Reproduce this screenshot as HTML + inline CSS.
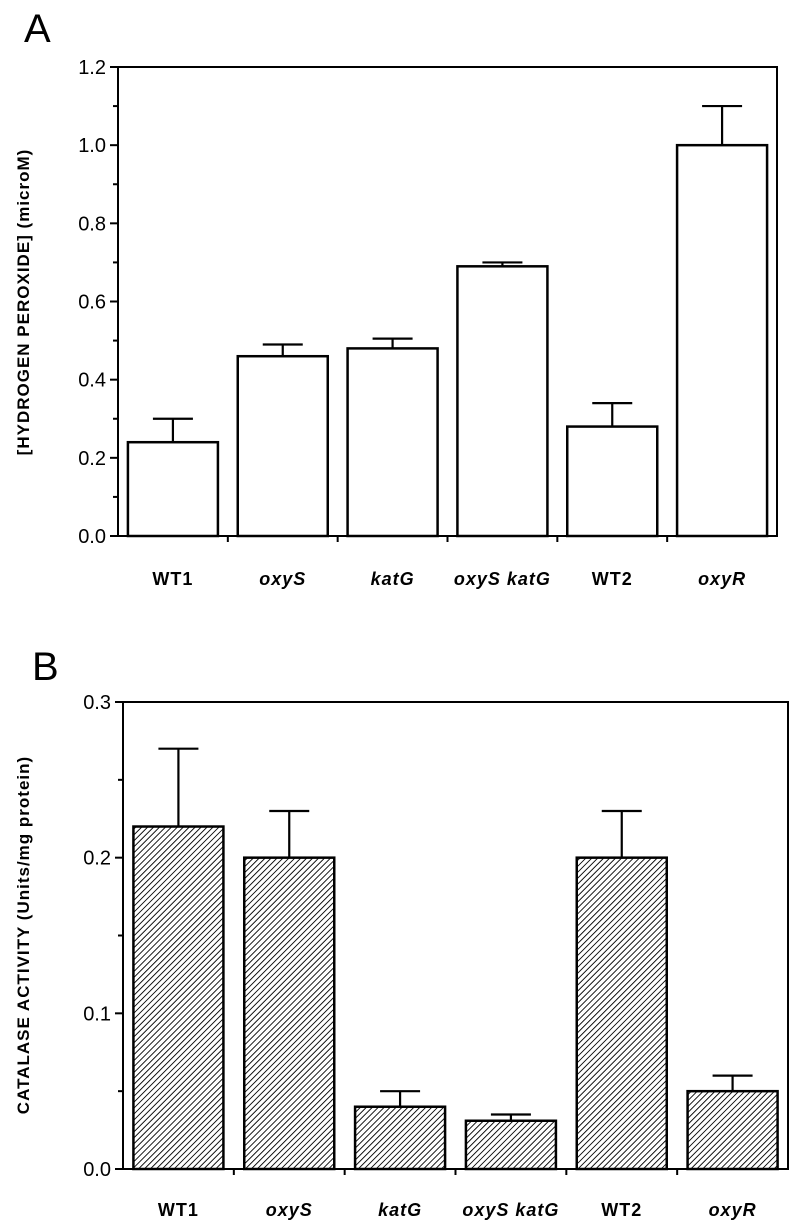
<!DOCTYPE html>
<html><head><meta charset="utf-8"><style>
body{margin:0;background:#fff}
svg{display:block;font-family:"Liberation Sans",sans-serif}
</style></head><body>
<svg id="chart" width="796" height="1230" xmlns="http://www.w3.org/2000/svg">
<defs>
<pattern id="hatch" patternUnits="userSpaceOnUse" width="4.2" height="4.2" patternTransform="rotate(45)">
<line x1="0" y1="0" x2="0" y2="4.2" stroke="#000" stroke-width="1.8"/>
</pattern>
</defs>
<text x="24" y="42" font-size="40">A</text>
<text x="32" y="680" font-size="40">B</text>
<text transform="translate(29,302) rotate(-90)" text-anchor="middle" font-size="17" font-weight="bold" letter-spacing="1">[HYDROGEN PEROXIDE] (microM)</text>
<text transform="translate(29,935) rotate(-90)" text-anchor="middle" font-size="17" font-weight="bold" letter-spacing="1">CATALASE ACTIVITY (Units/mg protein)</text>
<g id="ga"></g><g id="gb"></g>
</svg>
<script>
const categories = ["WT1","oxyS","katG","oxyS katG","WT2","oxyR"];
const italic = [false,true,true,true,false,true];
const peroxideValues = [0.24,0.46,0.48,0.69,0.28,1.0];
const peroxideErrors = [0.06,0.03,0.025,0.01,0.06,0.10];
const peroxideTicks = ["0.0","0.2","0.4","0.6","0.8","1.0","1.2"];
const catalaseValues = [0.22,0.20,0.04,0.031,0.20,0.05];
const catalaseErrors = [0.05,0.03,0.01,0.004,0.03,0.01];
const catalaseTicks = ["0.0","0.1","0.2","0.3"];

const NS="http://www.w3.org/2000/svg";
function mk(g,tag,attrs){const e=document.createElementNS(NS,tag);for(const k in attrs)e.setAttribute(k,attrs[k]);g.appendChild(e);return e;}

function panel(g,p,vals,errs,ticks,fill,prefix){
  const y=v=>p.y0-(v/p.max)*(p.y0-p.y1);
  const bw=(p.x1-p.x0)/categories.length;
  const x=i=>p.x0+bw*(i+0.5);
  let ax=mk(g,'path',{d:`M${p.x0},${p.y1}V${p.y0}H${p.x1}V${p.y1}H${p.x0-8}`,fill:'none',stroke:'#000','stroke-width':2});
  
  
  ticks.forEach((t,i)=>{
    const v=parseFloat(t), yy=y(v);
    mk(g,'line',{x1:p.x0-8,y1:yy,x2:p.x0,y2:yy,stroke:'#000','stroke-width':2});
    if(i<ticks.length-1){const ym=y(v+p.step/2);mk(g,'line',{x1:p.x0-5,y1:ym,x2:p.x0,y2:ym,stroke:'#000','stroke-width':2});}
    const tx=mk(g,'text',{x:p.x0-12,y:yy+7,'text-anchor':'end','font-size':20});
    tx.textContent=t;
    
    
  });
  for(let i=1;i<categories.length;i++){mk(g,'line',{x1:p.x0+bw*i,y1:p.y0,x2:p.x0+bw*i,y2:p.y0+6,stroke:'#000','stroke-width':2});}
  categories.forEach((c,i)=>{
    const cx=x(i), top=y(vals[i]), et=y(vals[i]+errs[i]);
    const eb=mk(g,'path',{d:`M${cx},${top}V${et}M${cx-20},${et}H${cx+20}`,stroke:'#000','stroke-width':2.2,fill:'none'});
    
    
    const r=mk(g,'rect',{x:cx-45,y:top,width:90,height:p.y0-top,fill:fill,stroke:'#000','stroke-width':2.5});
    
    
    const t=mk(g,'text',{x:cx,y:p.labelY,'text-anchor':'middle','font-size':18,'font-weight':'bold','letter-spacing':'1','font-style':italic[i]?'italic':'normal'});
    t.textContent=c;
    
    
  });
}
panel(document.getElementById('ga'),{x0:118,x1:777,y0:536,y1:67,max:1.2,step:0.2,labelY:585},peroxideValues,peroxideErrors,peroxideTicks,'#fff','panel-a');
panel(document.getElementById('gb'),{x0:123,x1:788,y0:1169,y1:702,max:0.3,step:0.1,labelY:1216},catalaseValues,catalaseErrors,catalaseTicks,'url(#hatch)','panel-b');
</script>
</body></html>
